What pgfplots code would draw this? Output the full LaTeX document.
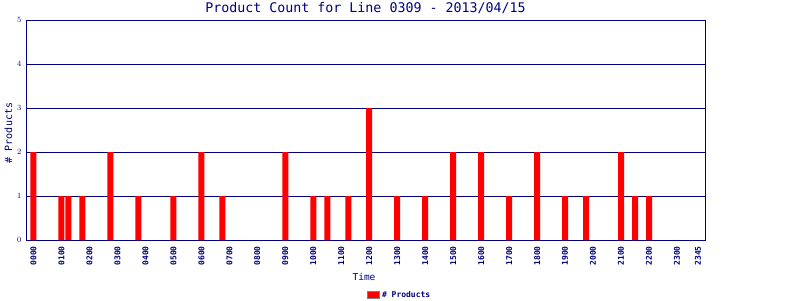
\documentclass[border=0pt]{standalone}
\usepackage{pgfplots}
\pgfplotsset{compat=1.18}
\usepackage{fontspec}
\setmainfont{DejaVu Sans Mono}
\definecolor{navy}{RGB}{0,0,128}
\begin{document}
\begin{tikzpicture}
\begin{axis}[
  at={(26.5pt,60pt)}, anchor=south west,
  scale only axis, width=678.5pt, height=220pt,
  xmin=-1, xmax=96, ymin=0, ymax=5,
  axis line style={navy, line width=1pt},
  ymajorgrids, grid style={navy, line width=1pt},
  ytick={0,1,2,3,4,5},
  xtick={0,4,8,12,16,20,24,28,32,36,40,44,48,52,56,60,64,68,72,76,80,84,88,92,95},
  xticklabels={0000,0100,0200,0300,0400,0500,0600,0700,0800,0900,1000,1100,1200,1300,1400,1500,1600,1700,1800,1900,2000,2100,2200,2300,2345},
  major tick length=0pt,
  xticklabel shift=6pt, yticklabel shift=5pt,
  x tick label style={rotate=90, anchor=east, inner sep=0pt, text=navy, font=\fontsize{8}{9}\selectfont\bfseries},
  y tick label style={anchor=east, inner sep=0pt, text=navy, font=\fontsize{8}{9}\selectfont\bfseries},
  ybar, bar width=6pt,
  legend style={at={(0.5497,-0.25)}, anchor=center, draw=none, fill=none, text=navy, font=\fontsize{8}{9}\selectfont\bfseries, inner sep=0pt, legend cell align=left},
  legend image code/.code={\fill[red, draw=gray, line width=0.8pt] (0pt,-3.5pt) rectangle (12.6pt,3.5pt);},
]
\addplot[fill=red, draw=none] coordinates {
(0,2) (4,1) (5,1) (7,1) (11,2) (15,1) (20,1) (24,2) (27,1)
(36,2) (40,1) (42,1) (45,1) (48,3) (52,1) (56,1) (60,2) (64,2) (68,1)
(72,2) (76,1) (79,1) (84,2) (86,1) (88,1)
};
\addlegendentry{\# Products}
\end{axis}
\node[text=navy, font=\fontsize{13.3}{15}\selectfont, inner sep=0pt] at (365.5pt,291.5pt) {Product Count for Line 0309 - 2013/04/15};
\node[text=navy, font=\fontsize{9.5}{11}\selectfont, inner sep=0pt] at (364pt,23pt) {Time};
\node[text=navy, font=\fontsize{10}{11}\selectfont, inner sep=0pt, rotate=90] at (8.3pt,167pt) {\# Products};
\pgfresetboundingbox
\useasboundingbox (0pt,0pt) rectangle (800pt,300pt);
\end{tikzpicture}
\end{document}
